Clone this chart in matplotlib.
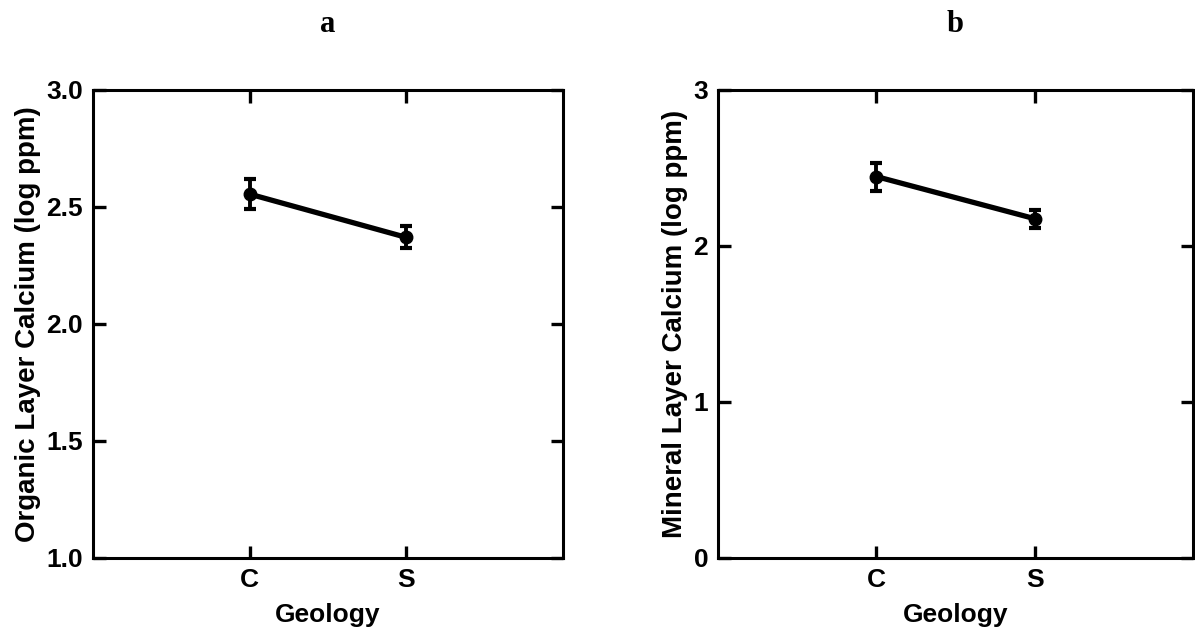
import matplotlib
matplotlib.use("Agg")
import matplotlib.pyplot as plt

# Geology groups
geology = ["C", "S"]

# Organic layer calcium (log ppm): means and standard errors
organic_mean = [2.555, 2.370]
organic_err = [0.063, 0.047]

# Mineral layer calcium (log ppm): means and standard errors
mineral_mean = [2.445, 2.175]
mineral_err = [0.090, 0.058]

organic_yticks = [1.0, 1.5, 2.0, 2.5, 3.0]
organic_yticklabels = ["1.0", "1.5", "2.0", "2.5", "3.0"]
mineral_yticks = [0, 1, 2, 3]
mineral_yticklabels = ["0", "1", "2", "3"]

plt.rcParams["font.family"] = ["Liberation Sans", "DejaVu Sans"]
plt.rcParams["font.weight"] = "bold"

fig = plt.figure(figsize=(11.95, 6.39), dpi=100)
ax_a = fig.add_axes([0.0778, 0.1268, 0.3933, 0.7324])
ax_b = fig.add_axes([0.6008, 0.1268, 0.3975, 0.7324])


def draw_panel(ax, means, errs, ylim, yticks, yticklabels, ylabel, title):
    xpos = list(range(1, len(geology) + 1))
    ax.errorbar(xpos, means, yerr=errs, color="black", linewidth=3.8,
                marker="o", markersize=9, elinewidth=2.8, capsize=4.5,
                capthick=3.0, solid_capstyle="round")
    ax.set_xlim(0, 3)
    ax.set_ylim(*ylim)
    ax.set_xticks(xpos)
    ax.set_xticklabels(geology, fontsize=19, fontweight="bold")
    ax.set_yticks(yticks)
    ax.set_yticklabels(yticklabels, fontsize=19, fontweight="bold")
    ax.tick_params(direction="in", length=9, width=2.4, top=True,
                   right=True, pad=7)
    for spine in ax.spines.values():
        spine.set_linewidth(2.2)
    ax.set_xlabel("Geology", fontsize=19, fontweight="bold", labelpad=8)
    ax.set_ylabel(ylabel, fontsize=20, fontweight="bold", labelpad=4)
    ax.set_title(title, fontsize=22, fontweight="bold",
                 family=["Liberation Serif", "DejaVu Serif"], pad=42)


draw_panel(ax_a, organic_mean, organic_err, (1.0, 3.0), organic_yticks,
           organic_yticklabels, "Organic Layer Calcium (log ppm)", "a")
draw_panel(ax_b, mineral_mean, mineral_err, (0, 3), mineral_yticks,
           mineral_yticklabels, "Mineral Layer Calcium (log ppm)", "b")

fig.savefig("out.png", dpi=100, facecolor="white")
